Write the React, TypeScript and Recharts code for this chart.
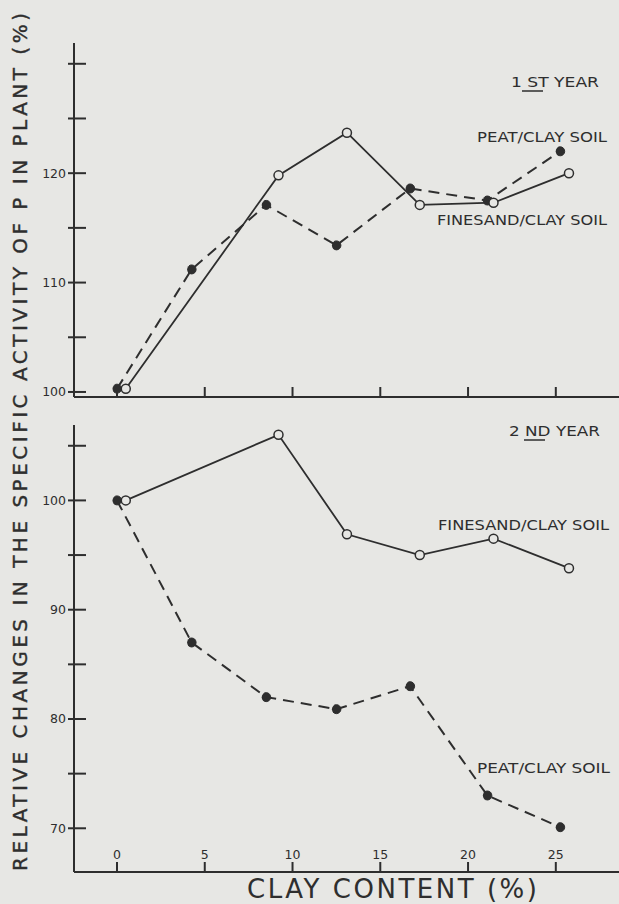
import { LineChart, Line, XAxis, YAxis } from 'recharts'

// clay content (%) where each soil was sampled
const peatX = [0, 4.25, 8.5, 12.5, 16.7, 21.1, 25.25]
const sandX = [0.5, 9.2, 13.1, 17.25, 21.45, 25.75]

// 1st year
const peatY1 = [100.3, 111.2, 117.1, 113.4, 118.6, 117.5, 122.0]
const sandY1 = [100.3, 119.8, 123.7, 117.1, 117.3, 120.0]

// 2nd year
const peatY2 = [100, 87.0, 82.0, 80.9, 83.0, 73.0, 70.1]
const sandY2 = [100, 106.0, 96.9, 95.0, 96.5, 93.8]

const xTicks = [0, 5, 10, 15, 20, 25]
const yTicksTop = [100, 105, 110, 115, 120, 125, 130]
const yLabelsTop = [100, 110, 120]
const yTicksBottom = [70, 75, 80, 85, 90, 95, 100, 105]
const yLabelsBottom = [70, 80, 90, 100]

const BG = '#e7e7e4'
const INK = '#2e2e2e'
const FONT = 'DejaVu Sans, sans-serif'

const pts = (xs: number[], ys: number[]) => xs.map((x, i) => ({ x, y: ys[i] }))

const YTick = ({ x, y, payload, labels }: any) => (
  <g>
    <line x1={x - 6} x2={x + 12} y1={y} y2={y} stroke={INK} strokeWidth={2} />
    {labels.includes(payload.value) && (
      <text x={x - 8} y={y} textAnchor="end" dominantBaseline="central" fontSize={12.5} fill={INK} fontFamily={FONT}>
        {payload.value}
      </text>
    )}
  </g>
)

const XTick = ({ x, y, payload, showLabel }: any) => (
  <g>
    <line x1={x} x2={x} y1={y} y2={y - 10} stroke={INK} strokeWidth={2} />
    {showLabel && (
      <text x={x} y={y - 18} textAnchor="middle" dominantBaseline="central" fontSize={12.5} fill={INK} fontFamily={FONT}>
        {payload.value}
      </text>
    )}
  </g>
)

function Panel({ peat, sand, domain, ticks, labels, showX, marginTop, marginBottom, height }: any) {
  return (
    <LineChart width={619} height={height} margin={{ top: marginTop, right: 0, bottom: marginBottom, left: 0 }}>
      <XAxis
        type="number"
        dataKey="x"
        domain={[-2.45, 28.6]}
        ticks={xTicks}
        allowDataOverflow
        height={2}
        tickSize={0}
        tickMargin={0}
        tickLine={false}
        axisLine={{ stroke: INK, strokeWidth: 2 }}
        tick={(p: any) => <XTick {...p} showLabel={showX} />}
        interval={0}
      />
      <YAxis
        type="number"
        dataKey="y"
        width={74}
        domain={domain}
        ticks={ticks}
        allowDataOverflow
        tickSize={0}
        tickMargin={0}
        tickLine={false}
        axisLine={{ stroke: INK, strokeWidth: 2 }}
        tick={(p: any) => <YTick {...p} labels={labels} />}
        interval={0}
      />
      <Line
        data={peat}
        dataKey="y"
        stroke={INK}
        strokeWidth={2}
        strokeDasharray="11 7"
        dot={{ r: 4.5, fill: INK, stroke: INK, strokeWidth: 1 }}
        isAnimationActive={false}
      />
      <Line
        data={sand}
        dataKey="y"
        stroke={INK}
        strokeWidth={1.8}
        dot={{ r: 4.5, fill: BG, stroke: INK, strokeWidth: 1.5 }}
        isAnimationActive={false}
      />
    </LineChart>
  )
}

export default function App() {
  const note = { fontSize: 13.5, fill: INK, fontFamily: FONT, dominantBaseline: 'central' as const }
  return (
    <div style={{ position: 'absolute', left: 0, top: 0, width: 619, height: 904, background: BG, overflow: 'hidden' }}>
      <div style={{ position: 'absolute', left: 0, top: 0 }}>
        <Panel
          peat={pts(peatX, peatY1)}
          sand={pts(sandX, sandY1)}
          domain={[99.54, 131.9]}
          ticks={yTicksTop}
          labels={yLabelsTop}
          showX={false}
          marginTop={43}
          marginBottom={1}
          height={400}
        />
      </div>
      <div style={{ position: 'absolute', left: 0, top: 400 }}>
        <Panel
          peat={pts(peatX, peatY2)}
          sand={pts(sandX, sandY2)}
          domain={[66.0, 106.9]}
          ticks={yTicksBottom}
          labels={yLabelsBottom}
          showX={true}
          marginTop={25}
          marginBottom={30}
          height={504}
        />
      </div>
      <svg width={619} height={904} style={{ position: 'absolute', left: 0, top: 0, pointerEvents: 'none' }}>
        <text
          x={27}
          y={871}
          transform="rotate(-90, 27, 871)"
          fontSize={20}
          fill={INK}
          stroke={INK}
          strokeWidth={0.4}
          fontFamily={FONT}
          textLength={858}
          lengthAdjust="spacing"
        >
          RELATIVE CHANGES IN THE SPECIFIC ACTIVITY OF P IN PLANT (%)
        </text>
        <text x={247} y={898} fontSize={26} fill={INK} fontFamily={FONT} textLength={290} lengthAdjust="spacing">
          CLAY CONTENT (%)
        </text>

        <text x={511} y={82} {...note} textLength={88} lengthAdjust="spacingAndGlyphs">1 ST YEAR</text>
        <line x1={522} x2={543} y1={91} y2={91} stroke={INK} strokeWidth={1.5} />
        <text x={477} y={137} {...note} textLength={130} lengthAdjust="spacingAndGlyphs">PEAT/CLAY SOIL</text>
        <text x={437} y={220} {...note} textLength={170} lengthAdjust="spacingAndGlyphs">FINESAND/CLAY SOIL</text>

        <text x={509} y={431} {...note} textLength={91} lengthAdjust="spacingAndGlyphs">2 ND YEAR</text>
        <line x1={524} x2={545} y1={440} y2={440} stroke={INK} strokeWidth={1.5} />
        <text x={438} y={525} {...note} textLength={171} lengthAdjust="spacingAndGlyphs">FINESAND/CLAY SOIL</text>
        <text x={477} y={768} {...note} textLength={133} lengthAdjust="spacingAndGlyphs">PEAT/CLAY SOIL</text>
      </svg>
    </div>
  )
}
